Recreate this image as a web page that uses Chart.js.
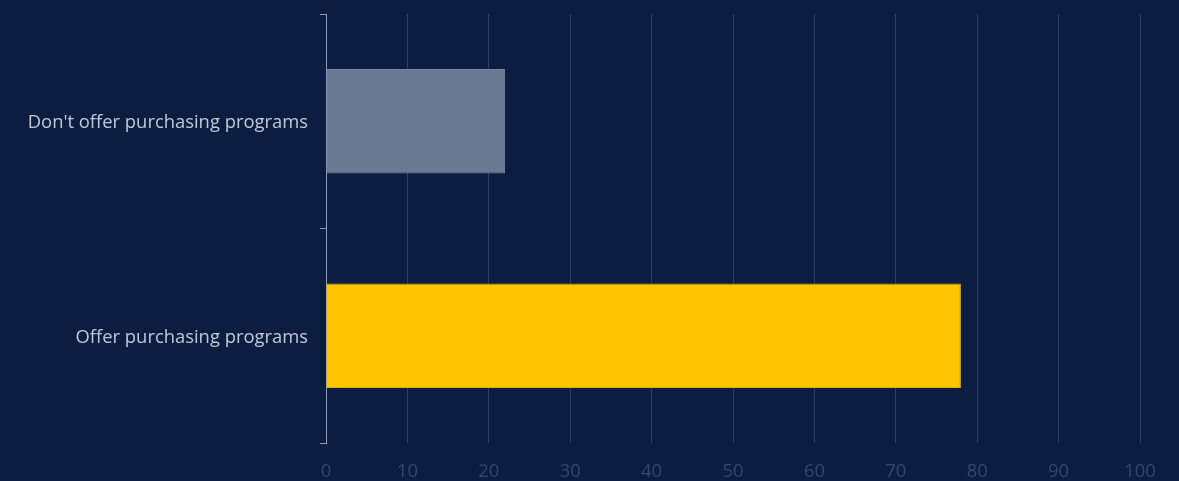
<!DOCTYPE html>
<html>
<head>
<meta charset="utf-8">
<script src="https://cdn.jsdelivr.net/npm/chart.js@4"></script>
<style>
  html, body { margin: 0; padding: 0; background: #0b1d41; }
  #wrap { width: 1179px; height: 481px; }
</style>
</head>
<body>
<div id="wrap"><canvas id="programsChart"></canvas></div>
<script>
var categories = ["Don't offer purchasing programs", 'Offer purchasing programs'];
var shares = [22, 78];
var barColors = ['#6b7891', '#ffc600'];
var barBorders = ['#7885a0', '#e0ae00'];
var xTicks = [0, 10, 20, 30, 40, 50, 60, 70, 80, 90, 100];

var axisLine = '#8b9dc1';
var gridLine = '#2c3e62';

var ctx = document.getElementById('programsChart').getContext('2d');
var chart = new Chart(ctx, {
  type: 'bar',
  data: {
    labels: categories,
    datasets: [{
      data: shares,
      backgroundColor: barColors,
      borderColor: barBorders,
      borderWidth: 1,
      barPercentage: 0.608,
      categoryPercentage: 0.8
    }]
  },
  options: {
    indexAxis: 'y',
    responsive: true,
    maintainAspectRatio: false,
    animation: false,
    layout: { padding: { top: 14, right: 39, bottom: 0, left: 0 } },
    plugins: {
      legend: { display: false },
      tooltip: { enabled: false }
    },
    scales: {
      x: {
        min: 0,
        max: 100,
        afterBuildTicks: function(scale) {
          scale.ticks = xTicks.map(function(v) { return { value: v }; });
        },
        afterFit: function(scale) { scale.height = 38; },
        border: { display: false },
        grid: { color: gridLine, lineWidth: 1, drawTicks: false },
        ticks: {
          padding: 18,
          color: '#35486c',
          font: { family: 'Open Sans', size: 18.4 }
        }
      },
      y: {
        afterFit: function(scale) {
          scale.width = 326;
          scale.paddingTop = 0;
          scale.paddingBottom = 0;
        },
        border: { display: true, color: axisLine, width: 1 },
        grid: {
          display: true,
          drawOnChartArea: false,
          offset: true,
          color: axisLine,
          tickLength: 6
        },
        ticks: {
          padding: 12,
          labelOffset: 2,
          color: '#c1c9d8',
          font: { family: 'Open Sans', size: 18.4 }
        }
      }
    }
  }
});
</script>
</body>
</html>
